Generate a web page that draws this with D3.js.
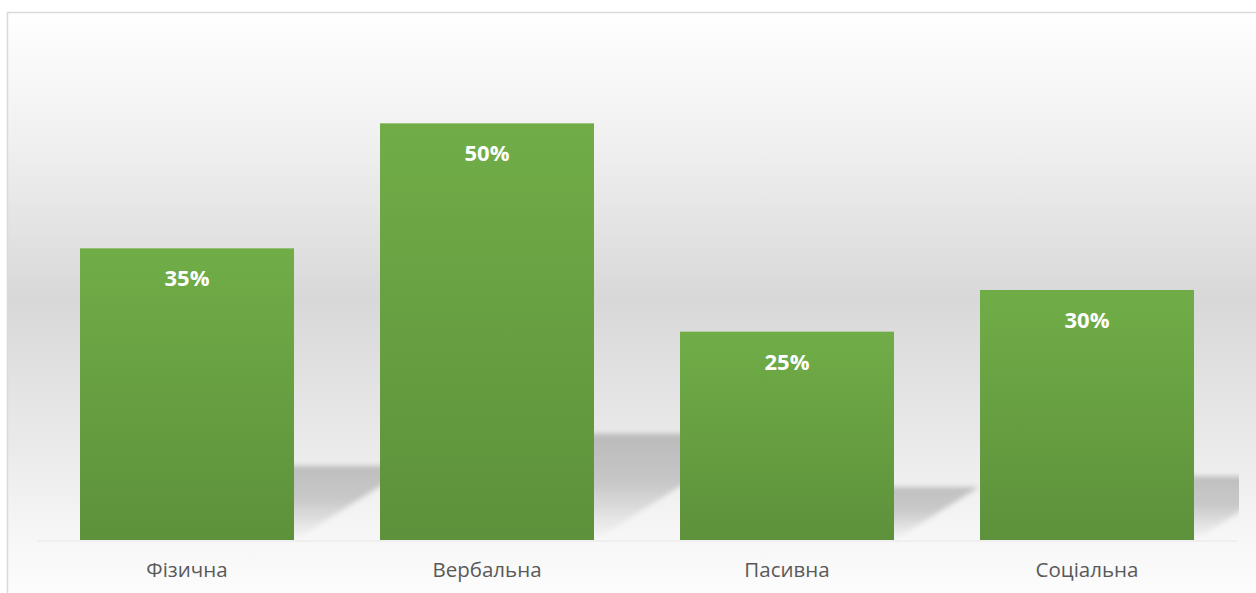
<!DOCTYPE html>
<html>
<head>
<meta charset="utf-8">
<script src="https://cdn.jsdelivr.net/npm/d3@7"></script>
<style>
  html, body { margin: 0; padding: 0; background: #ffffff; }
  svg { display: block; }
</style>
</head>
<body>
<svg id="chart" width="1256" height="593"></svg>
<script>
// Share of each form, as fractions
const categories = ["Фізична", "Вербальна", "Пасивна", "Соціальна"];
const values = [0.35, 0.50, 0.25, 0.30];
const valueLabels = ["35%", "50%", "25%", "30%"];

const W = 1256, H = 593;
const svg = d3.select("#chart");
const defs = svg.append("defs");

// Chart frame: soft grey band across the middle
const bg = defs.append("linearGradient")
  .attr("id", "bgGrad")
  .attr("gradientUnits", "userSpaceOnUse")
  .attr("x1", 0).attr("y1", 12).attr("x2", 0).attr("y2", 593);
[[12, "#ffffff"], [150, "#efefef"], [300, "#d8d8d8"], [445, "#eaeaea"], [540, "#f7f7f7"], [593, "#fcfcfc"]]
  .forEach(([y, c]) => bg.append("stop").attr("offset", (y - 12) / 581).attr("stop-color", c));

// Bar fill
const barGrad = defs.append("linearGradient")
  .attr("id", "barGrad").attr("x1", 0).attr("y1", 0).attr("x2", 0).attr("y2", 1);
barGrad.append("stop").attr("offset", 0).attr("stop-color", "#70ad47");
barGrad.append("stop").attr("offset", 1).attr("stop-color", "#5d913b");

// Cast shadow: darkest at its far edge, fading toward the base
const shGrad = defs.append("linearGradient")
  .attr("id", "shGrad").attr("x1", 0).attr("y1", 0).attr("x2", 0).attr("y2", 1);
shGrad.append("stop").attr("offset", 0).attr("stop-color", "#000").attr("stop-opacity", 0.2);
shGrad.append("stop").attr("offset", 0.45).attr("stop-color", "#000").attr("stop-opacity", 0.17);
shGrad.append("stop").attr("offset", 1).attr("stop-color", "#000").attr("stop-opacity", 0.0);

defs.append("filter").attr("id", "shBlur")
  .attr("x", "-10%").attr("y", "-10%").attr("width", "120%").attr("height", "120%")
  .append("feGaussianBlur").attr("stdDeviation", 2.6);

const plot = { left: 37, right: 1237, top: 40, bottom: 540 };

defs.append("clipPath").attr("id", "plotClip")
  .append("rect")
  .attr("x", plot.left).attr("y", plot.top)
  .attr("width", 1239 - plot.left).attr("height", plot.bottom - plot.top + 1);

// Frame
svg.append("rect")
  .attr("x", 7.5).attr("y", 12.5)
  .attr("width", W + 20).attr("height", H + 20)
  .attr("fill", "url(#bgGrad)")
  .attr("stroke", "#d9d9d9").attr("stroke-width", 1.5);

const x = d3.scaleBand()
  .domain(categories)
  .range([plot.left, plot.right])
  .paddingInner(0.2867)
  .paddingOuter(0.1433);

const y = d3.scaleLinear()
  .domain([0, 0.6])
  .range([plot.bottom, plot.top]);

const data = categories.map((c, i) => ({ cat: c, v: values[i], label: valueLabels[i] }));

// Shadows cast up and to the right of each bar
svg.append("g")
  .attr("clip-path", "url(#plotClip)")
  .selectAll("polygon")
  .data(data)
  .join("polygon")
  .attr("points", d => {
    const x0 = x(d.cat), x1 = x0 + x.bandwidth();
    const h = y(0) - y(d.v);
    const sh = 0.255 * h, dx = 1.6 * sh;
    const b = y(0);
    return [[x0, b], [x1, b], [x1 + dx, b - sh], [x0 + dx, b - sh]].map(p => p.join(",")).join(" ");
  })
  .attr("fill", "url(#shGrad)")
  .attr("filter", "url(#shBlur)");

// Baseline
svg.append("line")
  .attr("x1", plot.left).attr("x2", plot.right)
  .attr("y1", y(0) + 1).attr("y2", y(0) + 1)
  .attr("stroke", "#ececec").attr("stroke-width", 1.5);

// Bars
svg.append("g")
  .selectAll("rect")
  .data(data)
  .join("rect")
  .attr("x", d => x(d.cat))
  .attr("y", d => y(d.v))
  .attr("width", x.bandwidth())
  .attr("height", d => y(0) - y(d.v))
  .attr("fill", "url(#barGrad)");

// Value labels inside the top of each bar
svg.append("g")
  .selectAll("text")
  .data(data)
  .join("text")
  .attr("x", d => x(d.cat) + x.bandwidth() / 2)
  .attr("y", d => y(d.v) + 38)
  .attr("text-anchor", "middle")
  .attr("fill", "#ffffff")
  .attr("font-family", "'Open Sans', sans-serif")
  .attr("font-weight", "bold")
  .attr("font-size", "22px")
  .text(d => d.label);

// Category axis
const xAxis = svg.append("g")
  .attr("transform", `translate(0,${plot.bottom})`)
  .call(d3.axisBottom(x).tickSize(0).tickPadding(0));
xAxis.select(".domain").remove();
xAxis.selectAll("text")
  .attr("dy", null)
  .attr("y", 37)
  .attr("fill", "#595959")
  .attr("font-family", "'Open Sans', sans-serif")
  .attr("font-size", "20.5px");
</script>
</body>
</html>
